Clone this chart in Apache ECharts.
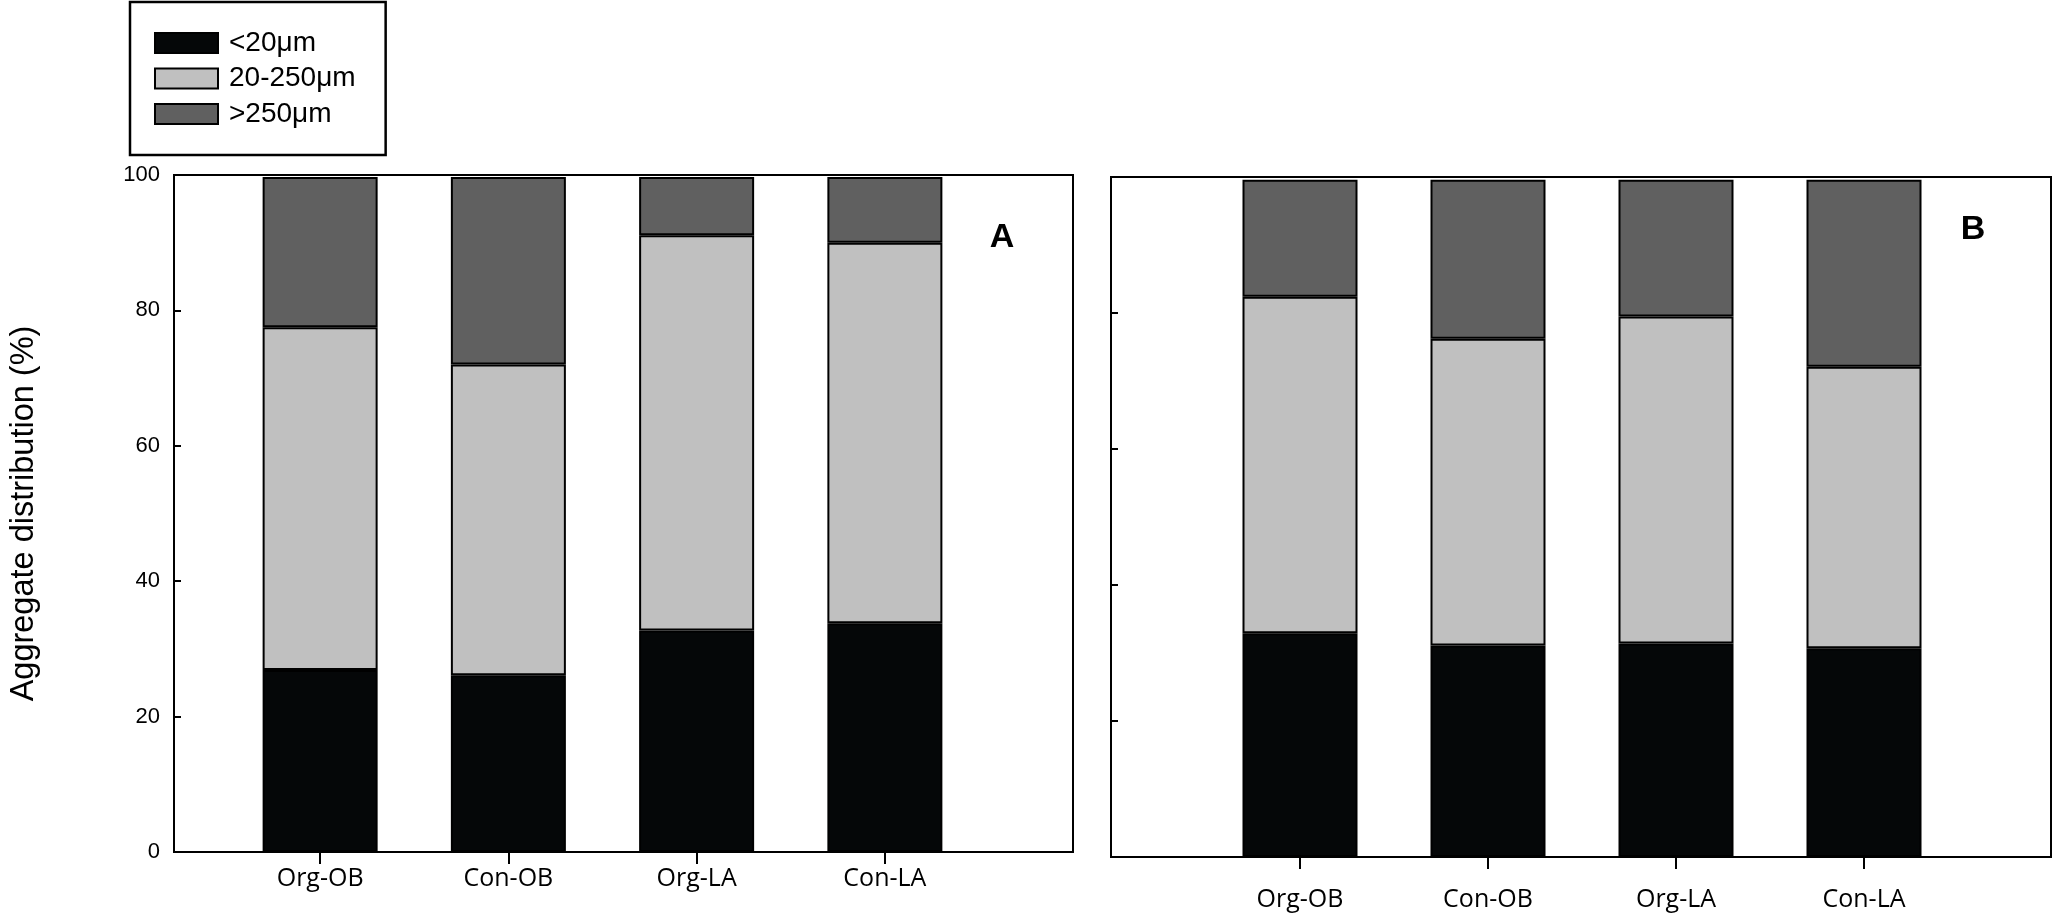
<!DOCTYPE html>
<html>
<head>
<meta charset="utf-8">
<script src="https://cdn.jsdelivr.net/npm/echarts@6/dist/echarts.min.js"></script>
<style>
html,body{margin:0;padding:0;background:#fff;}
#chart{width:2053px;height:919px;}
</style>
</head>
<body>
<div id="chart"></div>
<script>
// ---- data ----
const categories = ['Org-OB', 'Con-OB', 'Org-LA', 'Con-LA'];
const seriesNames = ['<20μm', '20-250μm', '>250μm'];
// Panel A
const A_lt20 = [26.9, 26.1, 32.7, 33.8];
const A_mid = [50.6, 45.9, 58.4, 56.2];
const A_gt250 = [22.2, 27.7, 8.6, 9.7];
// Panel B
const B_lt20 = [32.9, 31.1, 31.4, 30.7];
const B_mid = [49.5, 45.1, 48.1, 41.4];
const B_gt250 = [17.2, 23.4, 20.1, 27.5];
const yTicks = [0, 20, 40, 60, 80, 100];

const colors = ['#050708', '#c0c0c0', '#606060'];
const FONT = 'Liberation Sans, Arial, sans-serif';
const XFONT = 'Open Sans, sans-serif';

const chart = echarts.init(document.getElementById('chart'));

function barSeries(name, data, color, xi, stack) {
  return {
    type: 'bar', name: name, data: data, stack: stack,
    xAxisIndex: xi, yAxisIndex: xi,
    barWidth: 115,
    itemStyle: { color: color, borderColor: '#000', borderWidth: 2 },
    emphasis: { disabled: true },
    animation: false
  };
}

const option = {
  animation: false,
  backgroundColor: '#fff',
  grid: [
    // 0: frame A
    { left: 174, width: 899, top: 175, bottom: 67, show: true, borderColor: '#000', borderWidth: 2, backgroundColor: 'transparent' },
    // 1: bars A
    { left: 226, width: 753, top: 175, bottom: 67 },
    // 2: frame B
    { left: 1111, width: 940, top: 177, bottom: 62, show: true, borderColor: '#000', borderWidth: 2, backgroundColor: 'transparent' },
    // 3: bars B
    { left: 1206, width: 752, top: 177, bottom: 62 }
  ],
  xAxis: [
    { gridIndex: 0, type: 'value', min: 0, max: 1, show: false },
    { gridIndex: 1, type: 'category', data: categories,
      axisLine: { show: false },
      axisTick: { show: true, alignWithLabel: true, inside: false, length: 12, lineStyle: { color: '#000', width: 2 } },
      axisLabel: { color: '#000', fontSize: 25, fontFamily: XFONT, margin: 14 } },
    { gridIndex: 2, type: 'value', min: 0, max: 1, show: false },
    { gridIndex: 3, type: 'category', data: categories,
      axisLine: { show: false },
      axisTick: { show: true, alignWithLabel: true, inside: false, length: 12, lineStyle: { color: '#000', width: 2 } },
      axisLabel: { color: '#000', fontSize: 25, fontFamily: XFONT, margin: 30 } }
  ],
  yAxis: [
    { gridIndex: 0, type: 'value', min: 0, max: 100, interval: 20,
      axisLine: { show: true, lineStyle: { color: '#000', width: 2 } },
      axisTick: { show: true, inside: true, length: 7, lineStyle: { color: '#000', width: 2 } },
      splitLine: { show: false },
      axisLabel: { color: '#000', fontSize: 22, fontFamily: FONT, margin: 14,
        formatter: v => yTicks.indexOf(v) >= 0 ? String(v) : '' },
      name: 'Aggregate distribution (%)', nameLocation: 'middle', nameGap: 133,
      nameTextStyle: { color: '#000', fontSize: 32.5, fontFamily: FONT } },
    { gridIndex: 1, type: 'value', min: 0, max: 100, show: false },
    { gridIndex: 2, type: 'value', min: 0, max: 100, interval: 20,
      axisLine: { show: true, lineStyle: { color: '#000', width: 2 } },
      axisTick: { show: true, inside: true, length: 7, lineStyle: { color: '#000', width: 2 } },
      splitLine: { show: false },
      axisLabel: { show: false } },
    { gridIndex: 3, type: 'value', min: 0, max: 100, show: false }
  ],
  legend: {
    left: 130, top: 2, orient: 'vertical',
    data: seriesNames,
    itemWidth: 63, itemHeight: 20, itemGap: 7.5,
    padding: [27, 30, 27, 24],
    borderColor: '#000', borderWidth: 2.5, backgroundColor: '#fff',
    icon: 'rect',
    selectedMode: false,
    textStyle: { color: '#000', fontSize: 28, fontFamily: FONT, padding: [0, 0, 0, 6] }
  },
  graphic: [
    { type: 'text', x: 1002, y: 238, style: { text: 'A', fill: '#000', align: 'center', verticalAlign: 'middle', font: 'bold 34px Liberation Sans, Arial, sans-serif' } },
    { type: 'text', x: 1973, y: 230, style: { text: 'B', fill: '#000', align: 'center', verticalAlign: 'middle', font: 'bold 34px Liberation Sans, Arial, sans-serif' } }
  ],
  series: [
    barSeries(seriesNames[0], A_lt20, colors[0], 1, 'A'),
    barSeries(seriesNames[1], A_mid, colors[1], 1, 'A'),
    barSeries(seriesNames[2], A_gt250, colors[2], 1, 'A'),
    barSeries(seriesNames[0], B_lt20, colors[0], 3, 'B'),
    barSeries(seriesNames[1], B_mid, colors[1], 3, 'B'),
    barSeries(seriesNames[2], B_gt250, colors[2], 3, 'B')
  ]
};
chart.setOption(option);
</script>
</body>
</html>
